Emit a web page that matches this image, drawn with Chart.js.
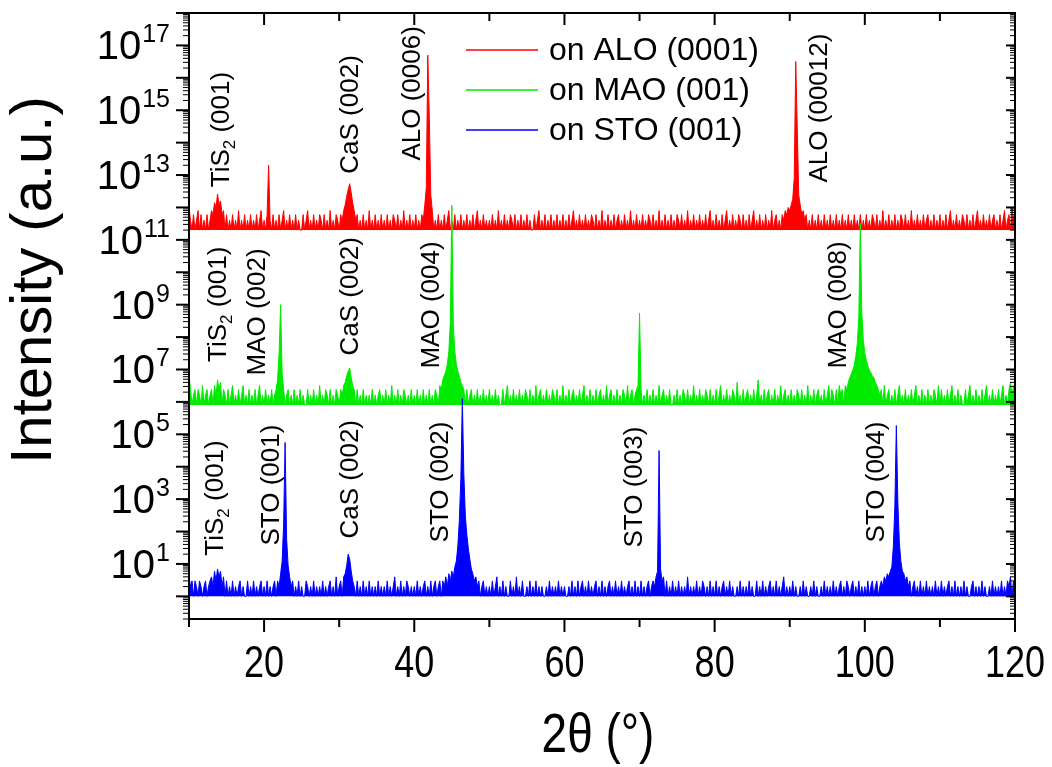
<!DOCTYPE html>
<html>
<head>
<meta charset="utf-8">
<script src="https://cdn.jsdelivr.net/npm/chart.js@4.4.1/dist/chart.umd.min.js"></script>
<style>
  html, body { margin: 0; padding: 0; background: #fff; }
</style>
</head>
<body>
<canvas id="xrdChart" width="1052" height="767"></canvas>
<script>
// 2theta scan: 10 to 120 deg, 0.2 deg step
const scanStart = 10;
const scanStep = 0.2;

// raw counts per step (one row = 10 deg)
const aloCounts = [
  5,2,1,3,1,2,4,1,3,1, 2,1,3,1,2,4,3,7,5,13, 6,8,3,4,1,3,1,2,1,3, 1,2,1,4,1,2,1,3,1,2, 1,3,1,2,1,3,1,2,4,1,
  2,1,3,100,2,1,3,1,2,1, 3,1,2,4,1,2,1,3,1,2, 1,3,1,2,1,1,3,1,2,4, 1,2,1,3,1,2,1,3,2,1, 3,1,2,1,4,1,2,1,3,2,
  1,3,2,4,6,11,18,27,14,7, 4,2,3,1,2,1,3,1,2,1, 4,1,2,1,3,1,2,1,3,1, 2,1,3,1,2,1,3,2,1,3, 1,2,1,4,1,2,1,3,1,2,
  1,3,1,2,1,3,2,6,20,250000, 3200,12,4,1,2,1,3,1,2,1, 3,1,2,4,1,2,1,3,1,2, 1,3,1,2,1,3,1,2,1,3, 1,2,4,1,2,1,3,1,2,1,
  2,1,3,1,2,1,4,1,2,1, 3,1,2,1,3,2,1,3,1,2, 1,3,1,2,1,3,1,2,1,1, 3,1,2,4,1,2,1,3,1,2, 1,3,1,2,1,3,1,2,1,3,
  1,2,1,3,1,2,4,1,2,1, 3,1,2,1,3,1,2,1,3,2, 1,3,1,2,1,4,1,2,1,3, 1,2,1,3,1,2,3,1,2,1, 3,1,2,1,4,1,2,1,3,1,
  2,1,3,1,2,1,3,2,1,3, 1,2,1,4,1,2,1,3,1,2, 1,3,1,2,1,3,2,1,3,1, 2,1,4,1,2,1,3,1,2,1, 3,1,2,1,3,1,2,4,1,2,
  1,3,1,2,1,3,1,2,4,1, 2,1,3,1,2,1,3,2,1,3, 1,2,1,3,1,2,4,1,2,1, 3,1,2,1,3,1,2,1,4,1, 2,3,1,2,1,3,2,4,3,5,
  4,6,9,40,160000,1500,12,6,3,4, 2,3,1,2,1,3,1,2,1,3, 1,2,1,3,1,2,1,3,1,2, 1,3,1,2,1,3,1,2,1,3, 1,2,1,3,1,2,1,3,1,2,
  1,3,1,2,1,3,2,1,3,1, 2,1,4,1,2,1,3,1,2,1, 3,1,2,1,3,2,1,3,1,2, 1,4,1,2,1,3,1,2,1,3, 1,2,3,1,2,1,3,1,2,1,
  3,1,2,1,3,1,2,4,1,2, 1,3,1,2,1,3,2,1,3,1, 2,1,3,1,2,4,1,2,1,3, 1,2,1,3,1,2,3,1,2,1, 3,1,2,4,1,2,3,1,5,2,
  4
];
const maoCounts = [
  8,3,1,2,3,1,3,2,1,4, 1,2,3,1,2,3,1,4,2,6, 3,5,1,3,2,1,3,1,2,4, 1,2,1,3,1,2,4,1,2,1, 3,1,2,1,3,1,2,4,1,2,
  1,3,1,2,1,3,1,2,3,6, 40,1250,10,3,1,2,3,1,2,1, 3,1,2,1,3,1,2,1,1,3, 1,2,1,3,1,2,1,4,1,2, 1,3,2,1,3,1,2,1,3,2,
  1,3,2,4,5,8,11,14,7,4, 3,1,3,1,2,1,3,1,2,1, 2,1,3,1,2,1,2,3,1,2, 1,3,1,2,1,4,1,2,1,3, 1,2,1,3,2,1,2,1,3,1,
  2,1,3,1,2,1,3,1,2,1, 3,1,2,1,3,2,1,4,3,6, 8,11,18,45,350,1450000,300,45,18,11, 8,5,4,3,1,3,1,2,3,1, 2,1,3,1,2,1,3,1,2,1,
  3,1,2,1,3,1,2,1,1,3, 1,2,4,1,2,1,3,1,2,1, 3,1,2,1,3,2,1,3,1,2, 1,4,1,2,3,1,2,1,3,1, 2,1,3,2,1,3,1,2,1,4,
  1,2,1,3,1,2,3,1,2,1, 3,1,2,4,1,2,1,3,1,2, 1,3,1,2,3,1,2,1,4,1, 2,3,1,2,1,3,1,2,1,3, 2,1,4,1,2,3,1,2,3,4,
  680,3,1,2,1,3,1,2,1,3, 1,2,1,4,1,2,3,1,2,1, 3,1,1,2,1,3,1,2,1,3, 2,1,3,1,2,1,4,1,2,1, 3,1,2,1,3,2,1,3,1,2,
  1,3,1,2,4,1,2,1,3,1, 2,1,3,2,1,5,1,2,1,3, 1,2,3,1,2,1,3,1,2,6, 1,2,1,3,1,2,3,1,2,1, 3,1,2,1,4,1,2,3,1,2,
  1,3,1,2,1,3,2,1,3,1, 2,1,4,1,2,1,3,1,2,3, 1,2,1,3,1,2,4,1,3,2, 1,3,1,4,2,3,1,4,3,5, 7,9,12,17,32,80,500,400000,700,100,
  40,24,16,12,10,8,7,5,4,3, 2,3,1,4,1,2,3,1,2,1, 3,1,2,4,1,2,1,3,1,2, 1,3,1,2,4,1,2,1,3,1, 2,1,3,1,2,1,3,2,1,4,
  1,3,1,2,1,3,1,2,4,1, 2,1,3,1,2,1,1,3,1,2, 4,1,2,1,3,1,2,1,3,1, 2,4,1,2,1,3,1,2,1,3, 1,2,4,1,2,1,3,5,2,4,
  3
];
const stoCounts = [
  4,2,3,1,3,2,1,3,2,1, 2,3,1,2,3,4,2,6,3,7, 4,6,2,4,1,3,1,2,1,3, 1,2,1,2,3,1,2,1,1,3, 1,2,1,3,1,2,1,2,3,1,
  2,1,3,1,2,1,2,3,1,3, 2,5,12,160,56000,60,9,4,2,3, 1,2,1,3,1,2,1,1,3,2, 1,2,1,3,1,2,1,2,1,3, 1,2,1,2,3,1,2,1,4,1,
  2,3,1,4,5,9,20,14,6,3, 2,1,3,1,2,1,3,1,2,1, 3,1,2,1,2,1,3,1,2,1, 2,1,3,1,2,1,2,4,1,2, 1,3,1,2,1,3,2,1,2,1,
  2,1,3,1,2,1,2,3,1,2, 1,3,1,2,3,1,2,3,1,3, 2,4,2,5,3,6,4,8,12,35, 220,4000,1260000,6000,300,80,30,14,7,5, 3,4,2,3,1,2,3,1,2,1,
  2,1,3,1,2,4,1,2,1,3, 1,2,1,1,3,1,2,1,4,1, 2,1,3,1,1,2,1,3,1,2, 1,3,1,2,1,2,1,1,2,1, 3,1,2,1,2,1,3,1,2,1,
  2,1,1,2,1,3,1,2,1,3, 1,2,3,1,2,1,3,1,2,1, 2,3,1,2,1,3,1,2,1,2, 3,1,2,1,3,1,2,1,3,1, 2,1,2,3,1,2,1,3,1,2,
  1,3,1,2,1,2,3,1,2,3, 2,4,6,31600,7,3,4,1,3,1, 2,1,3,1,2,1,3,1,2,1, 2,1,4,1,2,1,2,1,3,1, 2,1,3,2,1,2,1,3,1,2,
  1,3,1,2,1,2,3,1,2,1, 3,1,2,1,1,2,1,3,1,2, 1,2,1,3,1,2,1,1,3,1, 2,1,3,1,2,1,2,3,1,2, 1,3,1,2,1,2,4,1,2,1,
  2,1,3,1,2,1,1,2,1,3, 1,2,1,1,2,1,3,1,2,1, 1,2,1,3,1,2,1,2,1,3, 1,2,1,2,3,1,2,1,3,2, 1,2,3,1,2,1,3,1,2,1,
  2,1,3,1,2,3,1,2,3,1, 2,3,2,4,3,5,4,6,8,35, 600,186000,800,45,12,6,5,3,4,2, 3,1,2,3,1,2,1,3,1,2, 1,3,1,2,1,2,1,3,1,2,
  1,3,1,2,1,2,3,1,2,1, 3,1,2,1,2,1,3,1,2,1, 1,2,3,1,2,1,2,1,3,1, 2,1,1,2,1,3,1,2,1,2, 1,3,1,2,1,3,2,4,1,3,
  2
];

// vertical offsets used to stack the three scans
const seriesNames = ['on ALO (0001)', 'on MAO (001)', 'on STO (001)'];
const seriesOffsets = [2e11, 8e5, 1];
const seriesColors = ['rgb(255,0,0)', 'rgb(0,235,0)', 'rgb(0,0,255)'];

const xTickLabels = [20, 40, 60, 80, 100, 120];
const yTickExponents = [1, 3, 5, 7, 9, 11, 13, 15, 17];

// reflection labels: name, subscript, hkl, anchor angle, anchor intensity
const peakNotes = [
  { name: 'TiS', sub: '2', hkl: '(001)', at: 14.4, level: 4.2e12 },
  { name: 'CaS', sub: '', hkl: '(002)', at: 31.6, level: 1.1e13 },
  { name: 'ALO', sub: '', hkl: '(0006)', at: 39.8, level: 2.8e13 },
  { name: 'ALO', sub: '', hkl: '(00012)', at: 94.0, level: 5.9e12 },
  { name: 'TiS', sub: '2', hkl: '(001)', at: 14.0, level: 1.7e7 },
  { name: 'MAO', sub: '', hkl: '(002)', at: 19.2, level: 6.5e6 },
  { name: 'CaS', sub: '', hkl: '(002)', at: 31.6, level: 2.7e7 },
  { name: 'MAO', sub: '', hkl: '(004)', at: 42.4, level: 1.07e7 },
  { name: 'MAO', sub: '', hkl: '(008)', at: 96.6, level: 1.07e7 },
  { name: 'TiS', sub: '2', hkl: '(001)', at: 13.6, level: 18 },
  { name: 'STO', sub: '', hkl: '(001)', at: 21.05, level: 37 },
  { name: 'CaS', sub: '', hkl: '(002)', at: 31.6, level: 61 },
  { name: 'STO', sub: '', hkl: '(002)', at: 43.6, level: 46 },
  { name: 'STO', sub: '', hkl: '(003)', at: 69.4, level: 32 },
  { name: 'STO', sub: '', hkl: '(004)', at: 101.6, level: 46 }
];

const SANS = '"Liberation Sans", Arial, sans-serif';

const allCounts = [aloCounts, maoCounts, stoCounts];
const datasets = allCounts.map((counts, k) => ({
  label: seriesNames[k],
  data: counts.map((c, i) => ({ x: scanStart + i * scanStep, y: c * seriesOffsets[k] })),
  borderColor: seriesColors[k],
  backgroundColor: seriesColors[k],
  borderWidth: 1,
  pointRadius: 0,
  tension: 0,
  fill: { value: seriesOffsets[k] },
  order: 3 - k
}));

// condensed text (the figure uses a narrow face for the x axis)
function narrowText(ctx, text, x, y, squeeze) {
  ctx.save();
  ctx.translate(x, y);
  ctx.scale(squeeze, 1);
  ctx.fillText(text, 0, 0);
  ctx.restore();
}

const axisFrame = {
  id: 'axisFrame',
  afterDatasetsDraw(chart) {
    const { ctx, chartArea: area, scales } = chart;
    const xs = scales.x, ys = scales.y;
    const seg = (x1, y1, x2, y2, w) => {
      ctx.lineWidth = w;
      ctx.beginPath();
      ctx.moveTo(x1, y1);
      ctx.lineTo(x2, y2);
      ctx.stroke();
    };
    ctx.save();
    ctx.strokeStyle = '#000';
    ctx.fillStyle = '#000';

    // x ticks: every 10, long ones every 20
    for (let v = xs.min; v <= xs.max; v += 10) {
      const px = xs.getPixelForValue(v);
      const major = v % 20 === 0;
      seg(px, area.bottom, px, area.bottom + (major ? 13 : 8), 2);
      seg(px, area.top, px, area.top + (major ? 12 : 8), 2);
    }

    // y ticks: decades + log minors
    for (let e = -1; e <= 18; e++) {
      for (let m = 1; m <= 9; m++) {
        const v = m * Math.pow(10, e);
        if (v < ys.min || v > ys.max) continue;
        const py = ys.getPixelForValue(v);
        const major = m === 1;
        seg(area.left - (major ? 13 : 6), py, area.left, py, major ? 2 : 1);
        seg(area.right - (major ? 9 : 5), py, area.right, py, major ? 2 : 1);
      }
    }

    ctx.lineWidth = 2;
    ctx.strokeRect(area.left, area.top, area.right - area.left, area.bottom - area.top);

    // y tick labels 10^n
    ctx.textBaseline = 'alphabetic';
    yTickExponents.forEach(e => {
      const py = ys.getPixelForValue(Math.pow(10, e));
      const right = 170;
      ctx.font = '25px ' + SANS;
      const sup = String(e);
      const supW = ctx.measureText(sup).width;
      ctx.textAlign = 'left';
      ctx.fillText(sup, right - supW, py - 3);
      ctx.font = '40px ' + SANS;
      ctx.textAlign = 'right';
      ctx.fillText('10', right - supW - 1, py + 14);
    });

    // x tick labels
    ctx.font = '45px ' + SANS;
    ctx.textAlign = 'center';
    xTickLabels.forEach(v => narrowText(ctx, String(v), xs.getPixelForValue(v), 677, 0.8));

    // axis titles
    ctx.font = '56px ' + SANS;
    narrowText(ctx, '2\u03B8 (\u00B0)', 598, 752, 0.82);
    ctx.save();
    ctx.translate(51, 280);
    ctx.rotate(-Math.PI / 2);
    ctx.font = '58px ' + SANS;
    ctx.fillText('Intensity (a.u.)', 0, 0);
    ctx.restore();

    // legend
    chart.data.datasets.forEach((ds, i) => {
      const ly = 50 + i * 40;
      ctx.strokeStyle = ds.borderColor;
      seg(466, ly, 538, ly, 1.5);
      ctx.font = '32px ' + SANS;
      ctx.textAlign = 'left';
      ctx.textBaseline = 'middle';
      ctx.fillText(ds.label, 549, ly + 1);
    });

    // reflection labels, rotated
    peakNotes.forEach(n => {
      ctx.save();
      ctx.translate(xs.getPixelForValue(n.at), ys.getPixelForValue(n.level));
      ctx.rotate(-Math.PI / 2);
      ctx.textAlign = 'left';
      ctx.textBaseline = 'middle';
      ctx.font = '26px ' + SANS;
      let cx = 0;
      ctx.fillText(n.name, cx, 0);
      cx += ctx.measureText(n.name).width;
      if (n.sub) {
        ctx.font = '17px ' + SANS;
        ctx.fillText(n.sub, cx, 8);
        cx += ctx.measureText(n.sub).width;
        ctx.font = '26px ' + SANS;
      }
      ctx.fillText(' ' + n.hkl, cx, 0);
      ctx.restore();
    });

    ctx.restore();
  }
};

new Chart(document.getElementById('xrdChart'), {
  type: 'line',
  data: { datasets: datasets },
  options: {
    responsive: false,
    animation: false,
    events: [],
    layout: { padding: { left: 189, right: 37, top: 13, bottom: 148 } },
    scales: {
      x: { type: 'linear', min: 10, max: 120, display: false },
      y: { type: 'logarithmic', min: 0.2, max: 1e18, display: false }
    },
    plugins: {
      legend: { display: false },
      tooltip: { enabled: false }
    }
  },
  plugins: [axisFrame]
});
</script>
</body>
</html>
